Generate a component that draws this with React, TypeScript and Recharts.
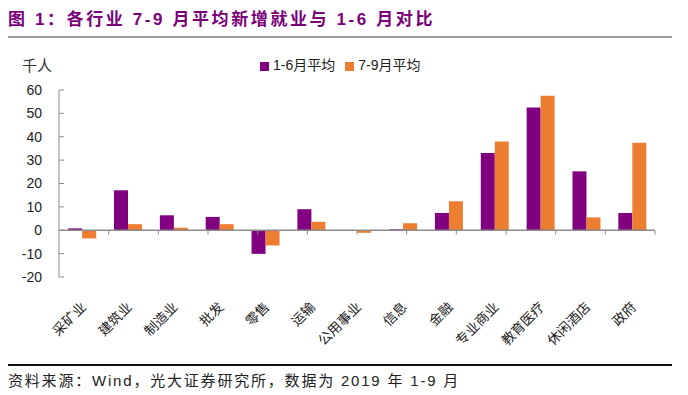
import React from 'react';
import {
  BarChart, Bar, XAxis, YAxis, ReferenceLine, Legend,
} from 'recharts';

// 行业分类
const industries = [
  '采矿业', '建筑业', '制造业', '批发', '零售', '运输', '公用事业',
  '信息', '金融', '专业商业', '教育医疗', '休闲酒店', '政府',
];
// 1-6月平均 (千人)
const avgJanJun = [0.8, 17.1, 6.4, 5.7, -10.1, 9.0, 0, 0.4, 7.4, 33.1, 52.5, 25.2, 7.4];
// 7-9月平均 (千人)
const avgJulSep = [-3.5, 2.6, 1.1, 2.6, -6.5, 3.6, -1.1, 3.0, 12.4, 38.0, 57.5, 5.5, 37.4];
const yTicks = [-20, -10, 0, 10, 20, 30, 40, 50, 60];

const PURPLE = '#800080';
const ORANGE = '#ED7D31';
const AXIS = '#8c8c8c';

const data = industries.map((name, i) => ({
  name,
  h1: avgJanJun[i],
  q3: avgJulSep[i],
}));
// boundaries between categories, for the small tick marks on the zero line
const boundaries = industries.map((_, i) => i + 1);

const CatTick = (props: any) => {
  const { x, y, payload } = props;
  return (
    <g transform={`translate(${x + 5},${y + 31})`}>
      <text
        x={0}
        y={0}
        textAnchor="end"
        transform="rotate(-45)"
        fontSize={13.5}
        fill="#222"
        fontFamily="'Noto Sans CJK SC', sans-serif"
      >
        {payload.value}
      </text>
    </g>
  );
};

export default function App() {
  return (
    <div
      style={{
        position: 'absolute', left: 0, top: 0, width: 688, height: 395,
        background: '#fff', overflow: 'hidden',
        fontFamily: "'Liberation Sans', 'Noto Sans CJK SC', sans-serif",
      }}
    >
      <div
        style={{
          position: 'absolute', left: 8, top: 5, fontSize: 17, fontWeight: 700,
          color: '#7a007a', letterSpacing: 2.6, whiteSpace: 'nowrap',
        }}
      >
        图 1：各行业 7-9 月平均新增就业与 1-6 月对比
      </div>
      <div style={{ position: 'absolute', left: 8, top: 36, width: 664, height: 2, background: '#9a9a9a' }} />
      <div style={{ position: 'absolute', left: 22, top: 54, fontSize: 15, color: '#333' }}>千人</div>

      <BarChart
        width={688}
        height={395}
        data={data}
        margin={{ top: 70, right: 33, bottom: 38, left: 0 }}
        barCategoryGap="20%"
        barGap={0}
        style={{ position: 'absolute', left: 0, top: 0 }}
      >
        <XAxis
          dataKey="name"
          interval={0}
          axisLine={false}
          tickLine={false}
          tickSize={0}
          tickMargin={0}
          height={80}
          tick={<CatTick />}
        />
        <XAxis xAxisId="b" type="number" domain={[0, 13]} hide />
        <YAxis
          domain={[-20, 60]}
          ticks={yTicks}
          interval={0}
          width={59}
          stroke={AXIS}
          tickSize={-5}
          tickMargin={22}
          tick={{ fontSize: 14, fill: '#222' }}
        />
        <Legend
          verticalAlign="top"
          align="left"
          iconType="square"
          iconSize={9}
          wrapperStyle={{ left: 260, top: 54, width: 'auto', fontSize: 14 }}
          formatter={(v) => <span style={{ color: '#222' }}>{v}</span>}
        />
        <Bar dataKey="h1" name="1-6月平均" fill={PURPLE} isAnimationActive={false} />
        <Bar dataKey="q3" name="7-9月平均" fill={ORANGE} isAnimationActive={false} />
        <ReferenceLine y={0} stroke={AXIS} strokeWidth={1.5} />
        {boundaries.map((b) => (
          <ReferenceLine
            key={b}
            xAxisId="b"
            segment={[{ x: b, y: 0 }, { x: b, y: -1.8 }]}
            stroke={AXIS}
          />
        ))}
      </BarChart>

      <div style={{ position: 'absolute', left: 8, top: 364, width: 664, height: 1.5, background: '#111' }} />
      <div
        style={{
          position: 'absolute', left: 8, top: 369, fontSize: 15, color: '#222',
          letterSpacing: 1.8, whiteSpace: 'nowrap',
        }}
      >
        资料来源：Wind，光大证券研究所，数据为 2019 年 1-9 月
      </div>
    </div>
  );
}
